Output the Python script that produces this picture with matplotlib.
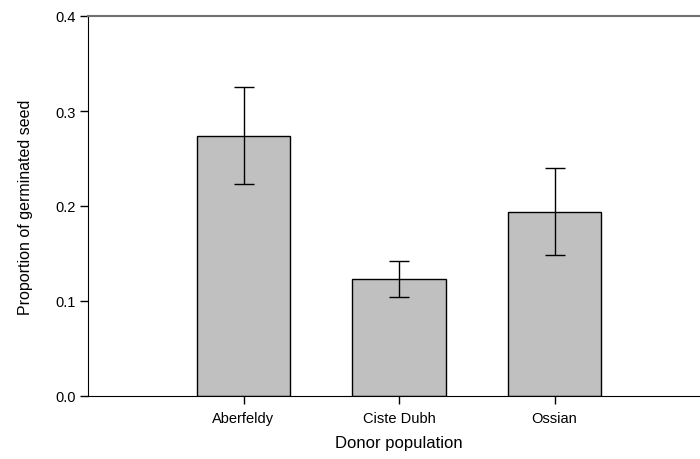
import matplotlib.pyplot as plt
import numpy as np

plt.rcParams['font.family'] = ['Liberation Sans', 'DejaVu Sans']

populations = ['Aberfeldy', 'Ciste Dubh', 'Ossian']
proportion = [0.274, 0.123, 0.194]
err = [0.051, 0.019, 0.046]

fig = plt.figure(figsize=(7, 4.6), dpi=100)
ax = fig.add_axes([88/700, 1-397/460, 622/700, 380/460])

x = np.arange(len(populations))
ax.bar(x, proportion, width=0.6, color='#c0c0c0', edgecolor='black', linewidth=1.0, zorder=2)
ax.errorbar(x, proportion, yerr=err, fmt='none', ecolor='black', elinewidth=1.0,
            capsize=7, capthick=1.0, zorder=3)

ax.set_xlim(-1, 3)
ax.set_ylim(0, 0.4)
ax.set_xticks(x)
ax.set_xticklabels(populations, fontsize=10.5)
ax.set_yticks([0, 0.1, 0.2, 0.3, 0.4])
ax.set_yticklabels(['0.0', '0.1', '0.2', '0.3', '0.4'], fontsize=10.5)
ax.tick_params(direction='out', length=6, width=1.0, pad=3)
ax.tick_params(axis='x', pad=5)

ax.spines['right'].set_visible(False)
ax.spines['top'].set_color('#707070')
ax.spines['top'].set_linewidth(1.5)

ax.set_xlabel('Donor population', fontsize=12, labelpad=7)
ax.set_ylabel('Proportion of germinated seed', fontsize=11.5, labelpad=16)

fig.savefig('out.png', dpi=100)
